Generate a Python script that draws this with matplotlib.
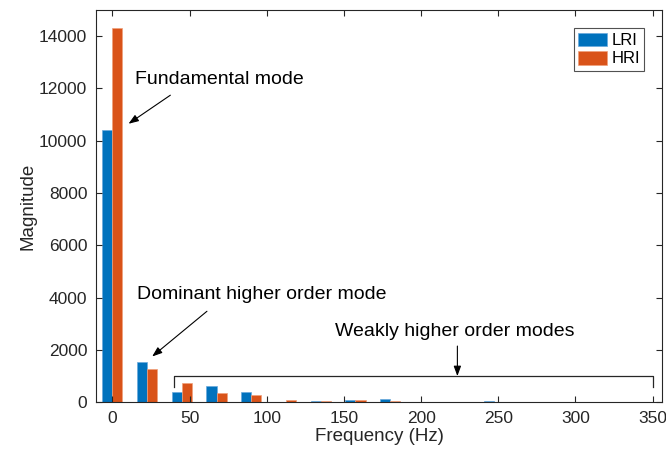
import numpy as np
import matplotlib
matplotlib.use("Agg")
import matplotlib.pyplot as plt

# harmonic index and spacing of the spectral lines (Hz)
harmonics = np.arange(16)
spacing_hz = 22.5
freqs = harmonics * spacing_hz

lri = [10400, 1530, 382, 623, 394, 10, 45, 95, 127, 8, 6, 40, 25, 4, 4, 8]
hri = [14300, 1272, 749, 344, 267, 77, 45, 75, 50, 25, 25, 25, 22, 18, 15, 12]

series_names = ["LRI", "HRI"]
x_ticks = [0, 50, 100, 150, 200, 250, 300, 350]
y_ticks = [0, 2000, 4000, 6000, 8000, 10000, 12000, 14000]

BLUE = "#0072BD"
ORANGE = "#D95319"
AX_COL = "#262626"

plt.rcParams["font.family"] = ["Liberation Sans", "DejaVu Sans"]

fig = plt.figure(figsize=(6.66, 4.54), dpi=100)
ax = fig.add_axes([0.1437, 0.1139, 0.8507, 0.8641])

bw = 6.5
ax.bar(freqs - bw / 2, lri, width=bw, color=BLUE, edgecolor="#6aa9dc", linewidth=0.5, label=series_names[0])
ax.bar(freqs + bw / 2, hri, width=bw, color=ORANGE, edgecolor="#f0a07a", linewidth=0.5, label=series_names[1])

ax.set_xlim(-10.75, 356.2)
ax.set_ylim(0, 15000)
ax.set_xticks(x_ticks)
ax.set_yticks(y_ticks)
ax.tick_params(direction="in", top=True, right=True, length=4, width=0.8,
               colors=AX_COL, labelsize=12.5, pad=6)
for s in ax.spines.values():
    s.set_color(AX_COL)
    s.set_linewidth(0.8)

ax.set_xlabel("Frequency (Hz)", fontsize=13.5, color=AX_COL, labelpad=2)
ax.set_ylabel("Magnitude", fontsize=13.5, color=AX_COL, labelpad=2)

leg = ax.legend(loc="upper right", bbox_to_anchor=(0.968, 0.953), fontsize=12,
                frameon=True, fancybox=False, handlelength=1.75, handleheight=0.9,
                handletextpad=0.25, borderpad=0.25, labelspacing=0.15, borderaxespad=0)
leg.get_frame().set_edgecolor(AX_COL)
leg.get_frame().set_linewidth(0.8)

arrow = dict(arrowstyle="-|>,head_length=0.6,head_width=0.22", color="black", lw=0.8,
             shrinkA=0, shrinkB=0)

ax.text(15.0, 12335, "Fundamental mode", fontsize=14, va="center", ha="left")
ax.annotate("", xy=(10.5, 10650), xytext=(37.6, 11742), arrowprops=arrow)

ax.text(16.0, 4115, "Dominant higher order mode", fontsize=14, va="center", ha="left")
ax.annotate("", xy=(25.8, 1750), xytext=(61.3, 3480), arrowprops=arrow)

# bracket over the weak higher-order modes
br_y, br_tick = 1000, 600
ax.plot([40, 40, 350, 350], [br_tick, br_y, br_y, br_tick], color=AX_COL, lw=0.9)
ax.text(222, 2690, "Weakly higher order modes", fontsize=14, va="center", ha="center")
ax.annotate("", xy=(223.5, br_y), xytext=(223.5, 2150), arrowprops=arrow)

fig.savefig("out.png", dpi=100)
